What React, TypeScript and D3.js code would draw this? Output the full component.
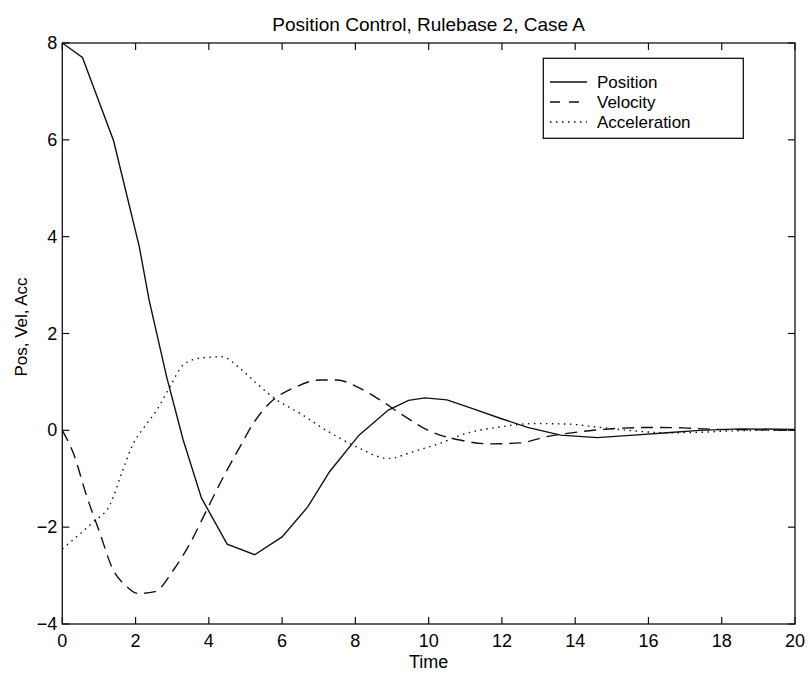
import React, { useEffect, useRef } from "react";
import * as d3 from "d3";

// values
const posTime = [0, 0.55, 1.4, 2.1, 2.37, 2.85, 3.3, 3.8, 4.5, 5.25, 6.0, 6.7, 7.3, 8.1, 8.9, 9.45, 9.9, 10.5, 11.2, 11.95, 12.7, 13.6, 14.6, 15.6, 16.5, 17.4, 18.5, 20];
const posValue = [8, 7.7, 5.98, 3.8, 2.69, 1.1, -0.2, -1.4, -2.35, -2.57, -2.2, -1.58, -0.85, -0.1, 0.42, 0.62, 0.67, 0.63, 0.45, 0.25, 0.06, -0.1, -0.15, -0.1, -0.05, 0, 0.03, 0.02];

const velTime = [0, 0.3, 0.67, 1.03, 1.35, 1.76, 2.07, 2.53, 3.03, 3.49, 3.94, 4.35, 4.85, 5.21, 5.76, 6.3, 7.03, 7.49, 8.12, 8.67, 9.22, 10.13, 10.85, 11.68, 12.5, 13.22, 14.13, 15.13, 16.13, 16.95, 17.86, 19, 20];
const velValue = [0, -0.47, -1.37, -2.13, -2.82, -3.23, -3.37, -3.33, -2.89, -2.33, -1.65, -1.03, -0.34, 0.14, 0.63, 0.87, 1.04, 1.04, 0.87, 0.63, 0.35, -0.05, -0.2, -0.28, -0.26, -0.13, -0.03, 0.04, 0.06, 0.05, 0.02, 0.01, 0];

const accTime = [0, 0.39, 0.85, 1.3, 1.62, 1.94, 2.21, 2.58, 2.94, 3.3, 3.75, 4.35, 4.85, 5.3, 5.85, 6.49, 7.12, 8.03, 8.9, 9.58, 10.3, 11.04, 11.95, 12.86, 13.77, 14.68, 15.59, 16.5, 17.4, 18.3, 19.2, 20];
const accValue = [-2.45, -2.2, -1.89, -1.54, -0.89, -0.27, 0.04, 0.42, 0.9, 1.35, 1.49, 1.52, 1.28, 0.97, 0.63, 0.35, 0.04, -0.34, -0.58, -0.44, -0.27, -0.06, 0.07, 0.14, 0.13, 0.06, -0.01, -0.05, -0.04, -0.01, 0, 0];

const xTicks = [0, 2, 4, 6, 8, 10, 12, 14, 16, 18, 20];
const yTicks = [-4, -2, 0, 2, 4, 6, 8];
const seriesNames = ["Position", "Velocity", "Acceleration"];

const App = () => {
  const ref = useRef<SVGSVGElement>(null);

  useEffect(() => {
    const width = 810;
    const height = 676;
    const left = 62.3, right = 795, top = 43, bottom = 624;
    const font = "'Liberation Sans', Arial, Helvetica, sans-serif";

    const svg = d3.select(ref.current);
    svg.selectAll("*").remove();
    svg.attr("width", width).attr("height", height);

    svg.append("rect").attr("width", width).attr("height", height).attr("fill", "#fff");

    const x = d3.scaleLinear().domain([0, 20]).range([left, right]);
    const y = d3.scaleLinear().domain([-4, 8]).range([bottom, top]);

    // axes box
    svg
      .append("rect")
      .attr("x", left)
      .attr("y", top)
      .attr("width", right - left)
      .attr("height", bottom - top)
      .attr("fill", "none")
      .attr("stroke", "#111")
      .attr("stroke-width", 1.3);

    const tickLen = 7;
    const g = svg.append("g").attr("stroke", "#111").attr("stroke-width", 1.2);
    xTicks.forEach((t) => {
      g.append("line").attr("x1", x(t)).attr("x2", x(t)).attr("y1", bottom).attr("y2", bottom - tickLen);
      g.append("line").attr("x1", x(t)).attr("x2", x(t)).attr("y1", top).attr("y2", top + tickLen);
    });
    yTicks.forEach((t) => {
      g.append("line").attr("x1", left).attr("x2", left + tickLen).attr("y1", y(t)).attr("y2", y(t));
      g.append("line").attr("x1", right).attr("x2", right - tickLen).attr("y1", y(t)).attr("y2", y(t));
    });

    // tick labels
    svg
      .append("g")
      .selectAll("text")
      .data(xTicks)
      .enter()
      .append("text")
      .attr("x", (d) => x(d))
      .attr("y", bottom + 23)
      .attr("text-anchor", "middle")
      .style("font-family", font)
      .style("font-size", "18px")
      .text((d) => d);

    svg
      .append("g")
      .selectAll("text")
      .data(yTicks)
      .enter()
      .append("text")
      .attr("x", left - 5)
      .attr("y", (d) => y(d) + 6)
      .attr("text-anchor", "end")
      .style("font-family", font)
      .style("font-size", "18px")
      .text((d) => (d < 0 ? "\u2212" + Math.abs(d) : d));

    // axis titles
    svg
      .append("text")
      .attr("x", (left + right) / 2)
      .attr("y", 668)
      .attr("text-anchor", "middle")
      .style("font-family", font)
      .style("font-size", "18px")
      .text("Time");

    svg
      .append("text")
      .attr("transform", `translate(27,${327}) rotate(-90)`)
      .attr("text-anchor", "middle")
      .style("font-family", font)
      .style("font-size", "17px")
      .text("Pos, Vel, Acc");

    svg
      .append("text")
      .attr("x", (left + right) / 2)
      .attr("y", 31)
      .attr("text-anchor", "middle")
      .style("font-family", font)
      .style("font-size", "19px")
      .text("Position Control, Rulebase 2, Case A");

    // series
    const line = d3
      .line<[number, number]>()
      .x((d) => x(d[0]))
      .y((d) => y(d[1]));

    const series = [
      { pts: posTime.map((t, i) => [t, posValue[i]] as [number, number]), dash: "none" },
      { pts: velTime.map((t, i) => [t, velValue[i]] as [number, number]), dash: "12,7" },
      { pts: accTime.map((t, i) => [t, accValue[i]] as [number, number]), dash: "1.5,4.5" },
    ];

    series.forEach((s) => {
      svg
        .append("path")
        .attr("d", line.curve(s.dash === "none" ? d3.curveLinear : d3.curveMonotoneX)(s.pts))
        .attr("fill", "none")
        .attr("stroke", "#111")
        .attr("stroke-width", 1.4)
        .attr("stroke-dasharray", s.dash);
    });

    // legend
    const lg = svg.append("g");
    lg.append("rect")
      .attr("x", 543.3)
      .attr("y", 58.3)
      .attr("width", 200)
      .attr("height", 80)
      .attr("fill", "#fff")
      .attr("stroke", "#111")
      .attr("stroke-width", 1.3);
    seriesNames.forEach((name, i) => {
      const yy = 82 + i * 20;
      lg.append("line")
        .attr("x1", 550)
        .attr("x2", 587)
        .attr("y1", yy)
        .attr("y2", yy)
        .attr("stroke", "#111")
        .attr("stroke-width", 1.4)
        .attr("stroke-dasharray", series[i].dash === "none" ? null : i === 1 ? "10,9" : "1.5,4.5");
      lg.append("text")
        .attr("x", 597)
        .attr("y", yy + 6)
        .style("font-family", font)
        .style("font-size", "17px")
        .text(name);
    });
  }, []);

  return <svg ref={ref} style={{ position: "absolute", left: 0, top: 0 }} />;
};

export default App;
